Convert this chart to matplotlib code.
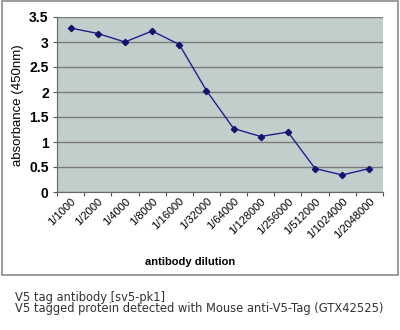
import matplotlib
matplotlib.use("Agg")
import matplotlib.pyplot as plt
from matplotlib.patches import Rectangle

categories = ["1/1000", "1/2000", "1/4000", "1/8000", "1/16000", "1/32000",
              "1/64000", "1/128000", "1/256000", "1/512000", "1/1024000", "1/2048000"]
absorbance = [3.28, 3.17, 3.00, 3.22, 2.95, 2.03, 1.27, 1.11, 1.20, 0.47, 0.34, 0.47]
yticks = [0, 0.5, 1, 1.5, 2, 2.5, 3, 3.5]
ytick_labels = ["0", "0.5", "1", "1.5", "2", "2.5", "3", "3.5"]

W, H = 400, 330
fig = plt.figure(figsize=(4, 3.3), dpi=100)
fig.patch.set_facecolor("white")

# outer chart frame
fig.patches.append(Rectangle((2 / W, 1 - 275 / H), 396 / W, 274 / H,
                             transform=fig.transFigure, fill=False,
                             edgecolor="#8a8a8a", linewidth=1.2))

ax = fig.add_axes([57 / W, 1 - 192 / H, 326 / W, 175 / H])
ax.set_facecolor("#c2cecc")
x = list(range(len(categories)))
ax.plot(x, absorbance, color="#1f1f8f", linewidth=1.0, marker="D",
        markersize=3.2, markerfacecolor="#14146e", markeredgecolor="#14146e")
ax.set_xlim(-0.5, len(categories) - 0.5)
ax.set_ylim(0, 3.5)
ax.set_yticks(yticks)
ax.set_yticklabels(ytick_labels, fontsize=10, fontweight="bold",
                   family="Liberation Sans")
ax.set_xticks([i - 0.5 for i in range(len(categories) + 1)], minor=False)
ax.set_xticklabels([""] * (len(categories) + 1))
ax.set_xticks(x, minor=True)
ax.set_xticklabels(categories, minor=True, rotation=45, ha="right",
                   rotation_mode="anchor", fontsize=8, family="Liberation Sans")
ax.tick_params(axis="x", which="minor", length=0, pad=3)
ax.tick_params(axis="x", which="major", length=3, direction="out", color="#555555")
ax.tick_params(axis="y", length=3, direction="out", color="#555555", pad=3)
ax.yaxis.grid(True, color="#7a7a7a", linewidth=1.0)
ax.set_axisbelow(True)
for s in ["top", "right"]:
    ax.spines[s].set_visible(False)
ax.spines["left"].set_color("#666666")
ax.spines["bottom"].set_color("#666666")

fig.text(18 / W, 1 - 105 / H, "absorbance (450nm)", rotation=90, ha="center",
         va="center", fontsize=9.5, family="Liberation Sans")
fig.text(190 / W, 1 - 262 / H, "antibody dilution", ha="center", va="center",
         fontsize=8, fontweight="bold", family="Liberation Sans")

fig.text(15 / W, 1 - 297 / H, "V5 tag antibody [sv5-pk1]", ha="left", va="center",
         fontsize=8.3, color="#333333", family="DejaVu Sans")
fig.text(15 / W, 1 - 308.5 / H,
         "V5 tagged protein detected with Mouse anti-V5-Tag (GTX42525)",
         ha="left", va="center", fontsize=8.3, color="#333333", family="DejaVu Sans")

fig.savefig("out.png", dpi=100)
